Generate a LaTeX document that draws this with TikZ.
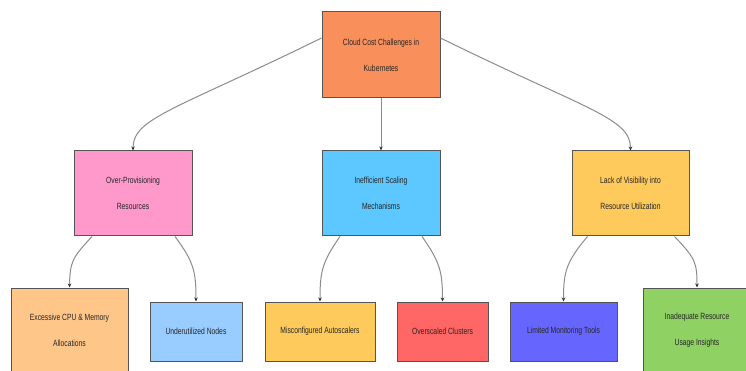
\documentclass[tikz,border=0pt]{standalone}
\usepackage{fontspec}
\setmainfont{Liberation Sans}[FakeStretch=0.75]
\usetikzlibrary{arrows.meta,calc}
\definecolor{cRoot}{HTML}{F9905B}
\definecolor{cPink}{HTML}{FF99CC}
\definecolor{cSky}{HTML}{5CC8FF}
\definecolor{cGold}{HTML}{FFCA5C}
\definecolor{cPeach}{HTML}{FFC68A}
\definecolor{cLBlue}{HTML}{99CCFF}
\definecolor{cRed}{HTML}{FF6666}
\definecolor{cViolet}{HTML}{6666FF}
\definecolor{cGreen}{HTML}{8FD163}
\definecolor{cEdge}{HTML}{555555}
\begin{document}
\begin{tikzpicture}[x=1pt,y=-1pt,
  box/.style={draw=cEdge,line width=1pt,align=center,inner sep=2pt,
    font=\fontsize{9}{26}\selectfont,text=black!85},
  link/.style={draw=black!45,line width=1pt,-{Stealth[length=4pt,width=3.5pt,black!80]}}]
\useasboundingbox (0,0) rectangle (746,371);
\fill[white] (0,0) rectangle (746,371);
\node[box,fill=cRoot,minimum width=118pt,minimum height=86pt] (root) at (381,55) {Cloud Cost Challenges in\\Kubernetes};
\node[box,fill=cPink,minimum width=118pt,minimum height=85pt] (over) at (133,193.5) {Over-Provisioning\\Resources};
\node[box,fill=cSky,minimum width=118pt,minimum height=85pt] (ineff) at (381,193.5) {Inefficient Scaling\\Mechanisms};
\node[box,fill=cGold,minimum width=117pt,minimum height=85pt] (lack) at (630.5,193.5) {Lack of Visibility into\\Resource Utilization};
\node[box,fill=cPeach,minimum width=117pt,minimum height=84pt] (exc) at (69.5,330) {Excessive CPU \& Memory\\Allocations};
\node[box,fill=cLBlue,minimum width=92pt,minimum height=59pt] (under) at (196,331.5) {Underutilized Nodes};
\node[box,fill=cGold,minimum width=110pt,minimum height=59pt] (mis) at (320,331.5) {Misconfigured Autoscalers};
\node[box,fill=cRed,minimum width=91pt,minimum height=59pt] (overs) at (442.5,331.5) {Overscaled Clusters};
\node[box,fill=cViolet,minimum width=107pt,minimum height=59pt] (lim) at (563.5,331.5) {Limited Monitoring Tools};
\node[box,fill=cGreen,minimum width=108pt,minimum height=84pt] (inad) at (697,330) {Inadequate Resource\\Usage Insights};
% connectors
\draw[link] ([yshift=17pt]root.west) .. controls (175,110) and (133,118) .. (over.north);
\draw[link] (root.south) -- (ineff.north);
\draw[link] ([yshift=17pt]root.east) .. controls (587,110) and (630.5,118) .. (lack.north);
\draw[link] ([xshift=-41pt]over.south) .. controls (72,258) and (70,262) .. (exc.north);
\draw[link] ([xshift=42pt]over.south) .. controls (194,262) and (196,272) .. (under.north);
\draw[link] ([xshift=-41pt]ineff.south) .. controls (322,262) and (320,272) .. (mis.north);
\draw[link] ([xshift=41pt]ineff.south) .. controls (440,262) and (442.5,272) .. (overs.north);
\draw[link] ([xshift=-43pt]lack.south) .. controls (566,262) and (563.5,272) .. (lim.north);
\draw[link] ([xshift=44pt]lack.south) .. controls (695,258) and (697,262) .. (inad.north);
\end{tikzpicture}
\end{document}
